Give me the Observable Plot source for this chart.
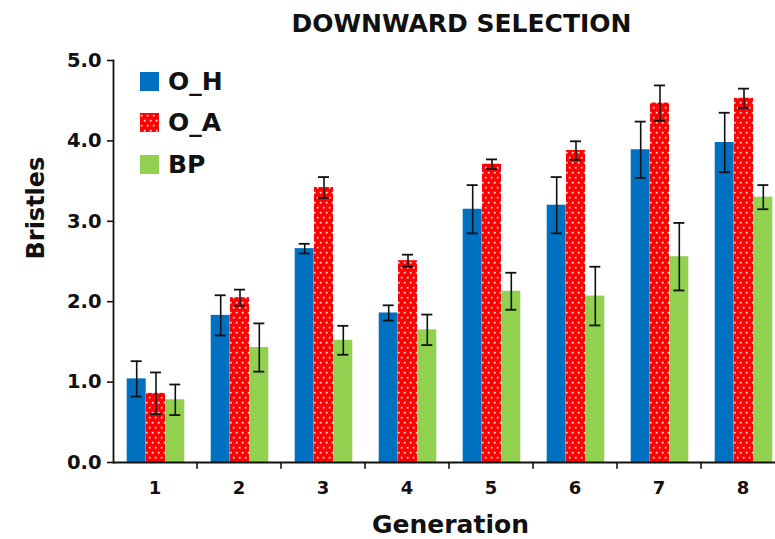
<!DOCTYPE html>
<html><head><meta charset="utf-8">
<script src="https://cdn.jsdelivr.net/npm/d3@7"></script>
<script src="https://cdn.jsdelivr.net/npm/@observablehq/plot@0.6"></script>
<style>
body{margin:0;background:#fff;}
#wrap{position:relative;width:775px;height:539px;overflow:hidden;font-family:"DejaVu Sans",sans-serif;}
.lg{position:absolute;left:140px;height:30px;display:flex;align-items:center;gap:9px;font-family:"DejaVu Sans",sans-serif;font-weight:bold;font-size:25px;color:#111;}
.lg svg{display:block;}
</style></head><body>
<svg width="0" height="0" style="position:absolute">
  <defs>
    <pattern id="dots" patternUnits="userSpaceOnUse" width="6" height="10">
      <rect width="6" height="10" fill="#ff0000"/>
      <rect x="0.8" y="1.8" width="1.8" height="1.8" fill="#ffd6d6"/>
      <rect x="3.8" y="6.8" width="1.8" height="1.8" fill="#ffd6d6"/>
    </pattern>
  </defs>
</svg>
<div id="wrap"></div>
<script>
const title = "DOWNWARD SELECTION";
const xLabel = "Generation";
const yLabel = "Bristles";
const generations = ["1","2","3","4","5","6","7","8"];
const seriesNames = ["O_H","O_A","BP"];
const seriesColors = ["#0070C0","url(#dots)","#92D050"];
const yTicks = [0,1,2,3,4,5];

const oH    = [1.04,1.83,2.66,1.86,3.15,3.20,3.89,3.98];
const oHErr = [0.22,0.25,0.06,0.095,0.30,0.35,0.35,0.37];
const oA    = [0.86,2.05,3.42,2.51,3.71,3.88,4.47,4.53];
const oAErr = [0.26,0.10,0.13,0.075,0.06,0.115,0.22,0.12];
const bp    = [0.78,1.43,1.52,1.65,2.13,2.07,2.56,3.30];
const bpErr = [0.19,0.30,0.18,0.19,0.23,0.365,0.42,0.15];

const seriesValues = [oH, oA, bp];
const seriesErrs = [oHErr, oAErr, bpErr];
const offsets = [-19.3, 0, 19.3];

const tables = seriesNames.map((s, k) => generations.map((g, i) => ({
  gen: g, series: s, value: seriesValues[k][i],
  lo: seriesValues[k][i] - seriesErrs[k][i], hi: seriesValues[k][i] + seriesErrs[k][i]
})));

const marks = [];
tables.forEach((t, k) => {
  marks.push(Plot.barY(t, {x: "gen", y: "value", fill: seriesColors[k], dx: offsets[k] + 1}));
});
tables.forEach((t, k) => {
  const dx = offsets[k] + 1;
  marks.push(Plot.ruleX(t, {x: "gen", y1: "lo", y2: "hi", dx, stroke: "#111", strokeWidth: 1.6}));
  marks.push(Plot.tickY(t, {x: "gen", y: "hi", dx, stroke: "#111", strokeWidth: 1.8, insetLeft: 4, insetRight: 4}));
  marks.push(Plot.tickY(t, {x: "gen", y: "lo", dx, stroke: "#111", strokeWidth: 1.8, insetLeft: 4, insetRight: 4}));
});

const chart = Plot.plot({
  width: 775, height: 539,
  marginLeft: 113, marginRight: 0, marginTop: 60, marginBottom: 77,
  style: {fontFamily: "DejaVu Sans", fontWeight: "bold", fontSize: "18px", color: "#111", background: "#fff"},
  x: {type: "band", domain: generations, range: [113, 785], paddingInner: 0.77, paddingOuter: 0.385, align: 0.5, label: null},
  y: {domain: [0, 5], label: null},
  marks: [
    ...marks,
    Plot.ruleY([0], {stroke: "#111", strokeWidth: 1.8}),
    Plot.frame({anchor: "left", stroke: "#111", strokeWidth: 1.8}),
    Plot.ruleX(generations, {x: d => d, y1: 0, y2: -0.085, dx: 42, stroke: "#111", strokeWidth: 1.6}),
    Plot.axisY({ticks: yTicks, tickFormat: d3.format(".1f"), tickSize: 6, tickPadding: 6, fontSize: 19.5, fontWeight: "bold", strokeWidth: 1.6}),
    Plot.axisX({tickSize: 0, tickPadding: 19, fontSize: 18, fontWeight: "bold"}),
    Plot.text([title], {frameAnchor: "top", lineAnchor: "middle", dy: -37, dx: 17, fontSize: 25, fontWeight: "bold"}),
    Plot.text([xLabel], {frameAnchor: "bottom", lineAnchor: "middle", dy: 62, dx: 6, fontSize: 25, fontWeight: "bold"}),
    Plot.text([yLabel], {frameAnchor: "left", lineAnchor: "middle", dx: -77, dy: -2, rotate: -90, fontSize: 24, fontWeight: "bold"})
  ]
});
const wrap = document.getElementById("wrap");
wrap.appendChild(chart);

const centers = [81, 122.5, 164];
seriesNames.forEach((s, k) => {
  const d = document.createElement("div");
  d.className = "lg";
  d.style.top = (centers[k] - 15) + "px";
  d.innerHTML = `<svg width="19" height="19"><rect width="19" height="19" fill="${seriesColors[k]}"/></svg><span>${s}</span>`;
  wrap.appendChild(d);
});
</script>
</body></html>
